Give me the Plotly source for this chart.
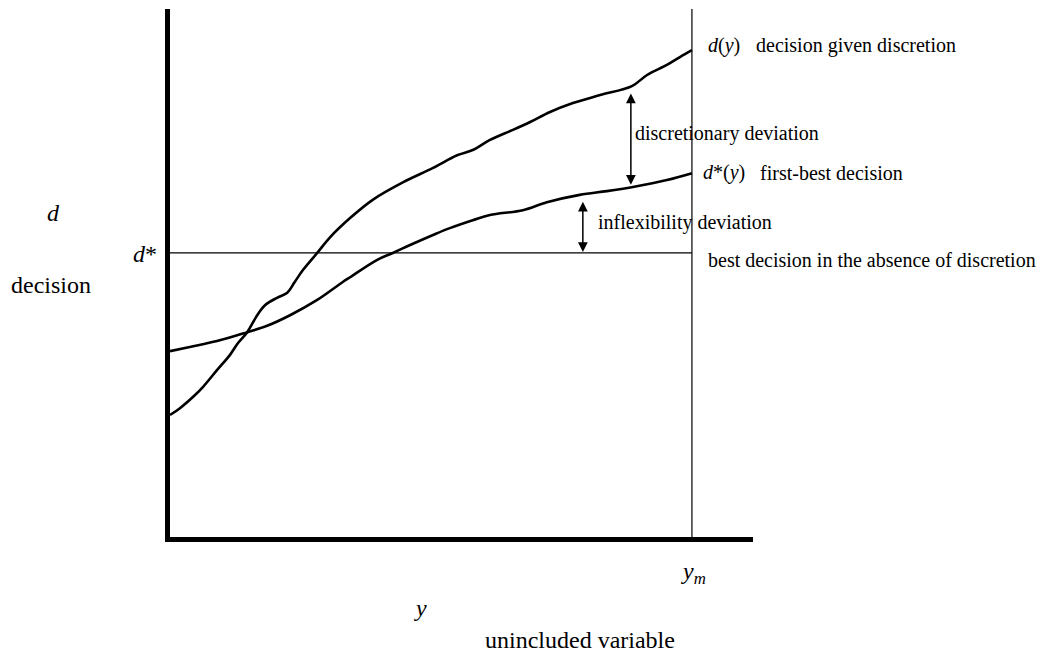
import plotly.graph_objects as go

# ---- data (conceptual units: x = unincluded variable y, y = decision d) ----
d_x = [0.00, 0.19, 0.48, 0.63, 0.90, 1.15, 1.30, 1.48, 1.67, 1.82, 2.05, 2.24, 2.39, 2.55,
       2.82, 3.07, 3.45, 3.89, 4.47, 5.04, 5.50, 5.80, 6.13, 6.57, 6.90, 7.28, 7.72, 8.24,
       8.85, 9.14, 9.52, 9.77, 10.00]
d_y = [2.31, 2.44, 2.69, 2.84, 3.16, 3.45, 3.67, 3.88, 4.20, 4.39, 4.53, 4.62, 4.83, 5.06,
       5.38, 5.68, 6.04, 6.39, 6.72, 6.99, 7.23, 7.33, 7.52, 7.71, 7.86, 8.05, 8.22, 8.37,
       8.54, 8.75, 8.94, 9.09, 9.22]

dstar_x = [0.00, 0.38, 0.90, 1.48, 1.86, 2.30, 2.82, 3.31, 3.45, 3.97, 4.27, 4.60, 5.04,
           5.36, 5.80, 6.13, 6.76, 7.22, 7.85, 8.37, 8.87, 9.52, 10.00]
dstar_y = [3.52, 3.60, 3.71, 3.88, 4.00, 4.20, 4.49, 4.83, 4.92, 5.25, 5.38, 5.53, 5.72,
           5.85, 6.00, 6.10, 6.19, 6.34, 6.48, 6.55, 6.63, 6.76, 6.89]

D_STAR = 5.38      # best decision in the absence of discretion
Y_M = 10.0         # y_m
X_MAX = 11.17
Y_MAX = 10.0

disc_arrow = {"x": 8.83, "top": 8.43, "bottom": 6.67}
infl_arrow = {"x": 7.91, "top": 6.38, "bottom": 5.40}

# ---- layout geometry (pixels; page body adds an 8px offset) ----
OFF = 8
W, H = 1053 - OFF, 660 - OFF
L, R, T, B = 170 - OFF, 300, 9 - OFF, 123
PW, PH = W - L - R, H - T - B


def px(xp):
    return (xp - OFF - L) / PW


def py(yp):
    return (H - B - (yp - OFF)) / PH


FONT = "Liberation Serif"
SMALL, BIG = 20, 24

fig = go.Figure()
fig.add_trace(go.Scatter(x=d_x, y=d_y, mode="lines", line=dict(color="black", width=2.6),
                         line_shape="spline", hoverinfo="skip"))
fig.add_trace(go.Scatter(x=dstar_x, y=dstar_y, mode="lines", line=dict(color="black", width=2.6),
                         line_shape="spline", hoverinfo="skip"))
# horizontal d* line
fig.add_trace(go.Scatter(x=[0, Y_M], y=[D_STAR, D_STAR], mode="lines",
                         line=dict(color="black", width=1.2), hoverinfo="skip"))
# vertical y_m line
fig.add_trace(go.Scatter(x=[Y_M, Y_M], y=[0, Y_MAX], mode="lines",
                         line=dict(color="black", width=1.2), hoverinfo="skip"))

ann = []
for a in (disc_arrow, infl_arrow):
    ann.append(dict(x=a["x"], y=a["bottom"], ax=a["x"], ay=a["top"], xref="x", yref="y",
                    axref="x", ayref="y", text="", showarrow=True, arrowhead=2,
                    arrowside="end+start", arrowsize=1.3, arrowwidth=1.5, arrowcolor="black"))


def label(text, xp, yp, xanchor="left", size=SMALL):
    ann.append(dict(x=px(xp), y=py(yp), xref="paper", yref="paper", text=text,
                    showarrow=False, xanchor=xanchor, yanchor="middle",
                    font=dict(family=FONT, size=size, color="black")))


label("<i>d</i>(<i>y</i>)", 706, 45)
label("decision given discretion", 754, 45)
label("discretionary deviation", 633, 133)
label("<i>d</i>*(<i>y</i>)", 701, 173)
label("first-best decision", 758, 173)
label("inflexibility deviation", 596, 222)
label("best decision in the absence of discretion", 706, 260)
label("<i>d</i>", 53, 213, "center", BIG)
label("<i>d</i>*", 145, 254, "center", BIG)
label("decision", 51, 285, "center", BIG)
label("<i>y</i><sub><i>m</i></sub>", 693, 573, "center", BIG)
label("<i>y</i>", 420, 608, "center", BIG)
label("unincluded variable", 580, 640, "center", BIG)

fig.update_layout(
    width=W, height=H, margin=dict(l=L, r=R, t=T, b=B),
    plot_bgcolor="white", paper_bgcolor="white", showlegend=False,
    font=dict(family=FONT),
    annotations=ann,
    xaxis=dict(range=[0, X_MAX], showgrid=False, zeroline=False, showticklabels=False,
               ticks="", showline=True, linecolor="black", linewidth=5, fixedrange=True),
    yaxis=dict(range=[0, Y_MAX], showgrid=False, zeroline=False, showticklabels=False,
               ticks="", showline=True, linecolor="black", linewidth=5, fixedrange=True),
)

fig.write_html("out.html")
